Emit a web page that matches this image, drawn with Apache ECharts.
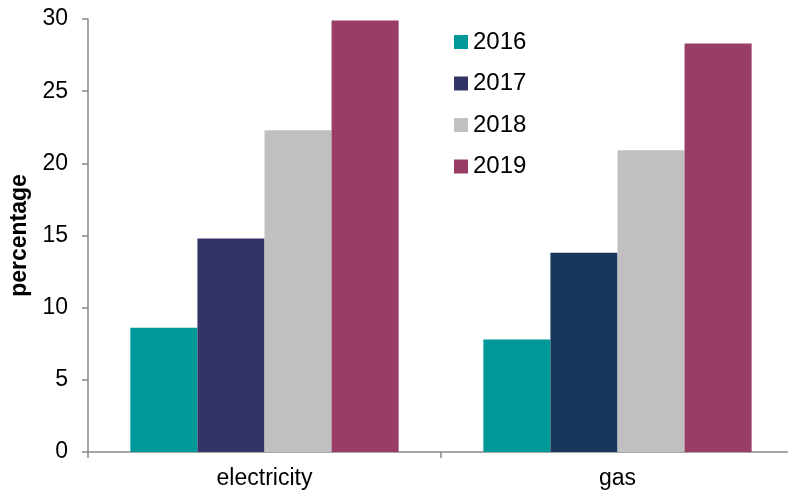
<!DOCTYPE html>
<html>
<head>
<meta charset="utf-8">
<script src="https://cdn.jsdelivr.net/npm/echarts@6/dist/echarts.min.js"></script>
<style>
  html, body { margin: 0; padding: 0; background: #fff; }
  #chart { width: 788px; height: 493px; }
</style>
</head>
<body>
<div id="chart"></div>
<script>
// Categories and yearly values (percentage)
const categories = ['electricity', 'gas'];
const years = ['2016', '2017', '2018', '2019'];
const values2016 = [8.6, 7.8];
const values2017 = [14.8, 13.8];
const values2018 = [22.3, 20.9];
const values2019 = [29.9, 28.3];
const yTicks = { min: 0, max: 30, interval: 5 };

const colors = ['#009999', '#333366', '#c0c0c0', '#993d66'];
const gas2017Color = '#18375c';

const seriesValues = [values2016, values2017, values2018, values2019];

const chart = echarts.init(document.getElementById('chart'), null, { renderer: 'canvas' });

const font = 'Liberation Sans, Arial, sans-serif';

chart.setOption({
  animation: false,
  textStyle: { fontFamily: font },
  grid: { left: 88, right: -6, top: 19, bottom: 41, containLabel: false, outerBoundsMode: 'none' },
  legend: {
    orient: 'vertical',
    left: 449,
    top: 25,
    itemWidth: 14,
    itemHeight: 14,
    itemGap: 17.5,
    icon: 'rect',
    textStyle: { fontSize: 24, color: '#000', fontFamily: font, lineHeight: 20, padding: [0, 0, 0, 0] },
    data: years
  },
  xAxis: {
    type: 'category',
    data: categories,
    axisLine: { lineStyle: { color: '#898989', width: 1.5 } },
    axisTick: { show: true, length: 6, lineStyle: { color: '#898989', width: 1.5 } },
    axisLabel: { fontSize: 23, color: '#000', margin: 15, fontFamily: font }
  },
  yAxis: {
    type: 'value',
    min: yTicks.min,
    max: yTicks.max,
    interval: yTicks.interval,
    name: 'percentage',
    nameLocation: 'middle',
    nameGap: 56,
    nameTextStyle: { fontSize: 23, fontWeight: 'bold', color: '#000', fontFamily: font },
    splitLine: { show: false },
    axisLine: { show: true, lineStyle: { color: '#898989', width: 1.5 } },
    axisTick: { show: true, length: 6, lineStyle: { color: '#898989', width: 1.5 } },
    axisLabel: { fontSize: 23, color: '#000', margin: 20, fontFamily: font }
  },
  series: years.map((year, i) => ({
    name: year,
    type: 'bar',
    barGap: '0%',
    barCategoryGap: '24%',
    itemStyle: { color: colors[i] },
    data: seriesValues[i].map((v, j) => {
      if (i === 1 && j === 1) {
        return { value: v, itemStyle: { color: gas2017Color } };
      }
      return v;
    })
  }))
});
</script>
</body>
</html>
